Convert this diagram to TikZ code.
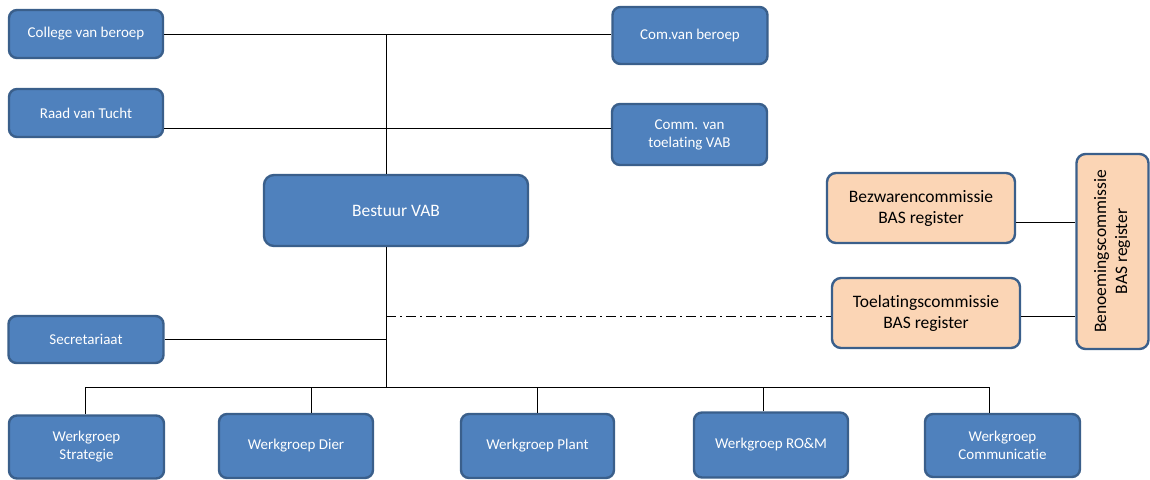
\documentclass[tikz,border=0pt]{standalone}
\usepackage{fontspec}
\usepackage{graphicx}
\setmainfont[Ligatures={NoCommon}]{Carlito}
\definecolor{boxblue}{HTML}{4F81BD}
\definecolor{edgeblue}{HTML}{3A5F8B}
\definecolor{boxorange}{HTML}{FBD5B5}
\tikzset{
  bluebox/.style={rectangle, rounded corners=8pt, draw=edgeblue, line width=2.4pt,
    fill=boxblue, text=white, align=center, inner sep=0pt,
    font=\fontsize{15}{18}\selectfont},
  orangebox/.style={rectangle, rounded corners=9pt, draw=edgeblue, line width=2.4pt,
    fill=boxorange, text=black, align=center, inner sep=0pt,
    font=\fontsize{17.5}{21}\selectfont},
  conn/.style={draw=black, line width=1pt},
  dashdotline/.style={draw=black, line width=1pt, dash pattern=on 10pt off 4pt on 2pt off 4pt}
}
\begin{document}
\begin{tikzpicture}[x=1pt,y=-1pt]
\useasboundingbox (0,0) rectangle (1150,479);
% nodes
\node[bluebox, minimum width=154, minimum height=48] (college) at (86,34) {College van beroep};
\node[bluebox, minimum width=154, minimum height=48] (raad) at (86,113) {Raad van Tucht};
\node[bluebox, minimum width=155, minimum height=57] (comberoep) at (690,35.5) {Com.van beroep};
\node[bluebox, minimum width=155, minimum height=61] (commtoel) at (689.5,134.5) {Comm. van\\toelating VAB};
\node[bluebox, rounded corners=10pt, minimum width=264, minimum height=71,
      font=\fontsize{17.5}{21}\selectfont] (bestuur) at (396,210.5) {Bestuur VAB};
\node[orangebox, minimum width=188, minimum height=70] (bezwaren) at (921,208) {Bezwarencommissie\\BAS register};
\node[orangebox, minimum width=188, minimum height=70] (toelating) at (926,313) {Toelatingscommissie\\BAS register};
\node[orangebox, minimum width=72, minimum height=195] (benoem) at (1112.5,251.5)
  {\rotatebox{90}{\begin{tabular}{@{}c@{}}Benoemingscommissie\\BAS register\end{tabular}}};
\node[bluebox, minimum width=155, minimum height=47] (secr) at (86,339.5) {Secretariaat};
\node[bluebox, minimum width=155, minimum height=63] (strategie) at (86.5,447) {Werkgroep\\Strategie};
\node[bluebox, minimum width=154, minimum height=64] (dier) at (296,446) {Werkgroep Dier};
\node[bluebox, minimum width=153, minimum height=64] (plant) at (537.5,446) {Werkgroep Plant};
\node[bluebox, minimum width=154, minimum height=65] (rom) at (771,445) {Werkgroep RO\&M};
\node[bluebox, minimum width=155, minimum height=63] (comm) at (1002.5,445.5) {Werkgroep\\Communicatie};
% helper coordinates
\coordinate (t0) at (386,34);
\coordinate (t1) at (386,128);
\coordinate (dd) at (386,316);
\coordinate (bus) at (386,387);
\coordinate (b1) at (1040,222);
\coordinate (v1) at (85,387);
\coordinate (v2) at (311,387);
\coordinate (v3) at (537,387);
\coordinate (v4) at (763,387);
\coordinate (v5) at (989,387);
% connectors
\draw[conn] (college.east) -- (comberoep.west |- college.east);
\draw[conn] (t0) -- (bestuur.north -| t0);
\draw[conn] (raad.east |- t1) -- (commtoel.west |- t1);
\draw[conn] (bestuur.south -| t0) -- (bus);
\draw[conn] (secr.east) -- (secr.east -| t0);
\draw[conn] (v1) -- (v5);
\draw[conn] (v1) -- (strategie.north -| v1);
\draw[conn] (v2) -- (dier.north -| v2);
\draw[conn] (v3) -- (plant.north -| v3);
\draw[conn] (v4) -- (rom.north -| v4);
\draw[conn] (v5) -- (comm.north -| v5);
\draw[dashdotline] (dd) -- (toelating.west |- dd);
\draw[conn] (bezwaren.east |- b1) -- (benoem.west |- b1);
\draw[conn] (toelating.east |- dd) -- (benoem.west |- dd);
\end{tikzpicture}
\end{document}
